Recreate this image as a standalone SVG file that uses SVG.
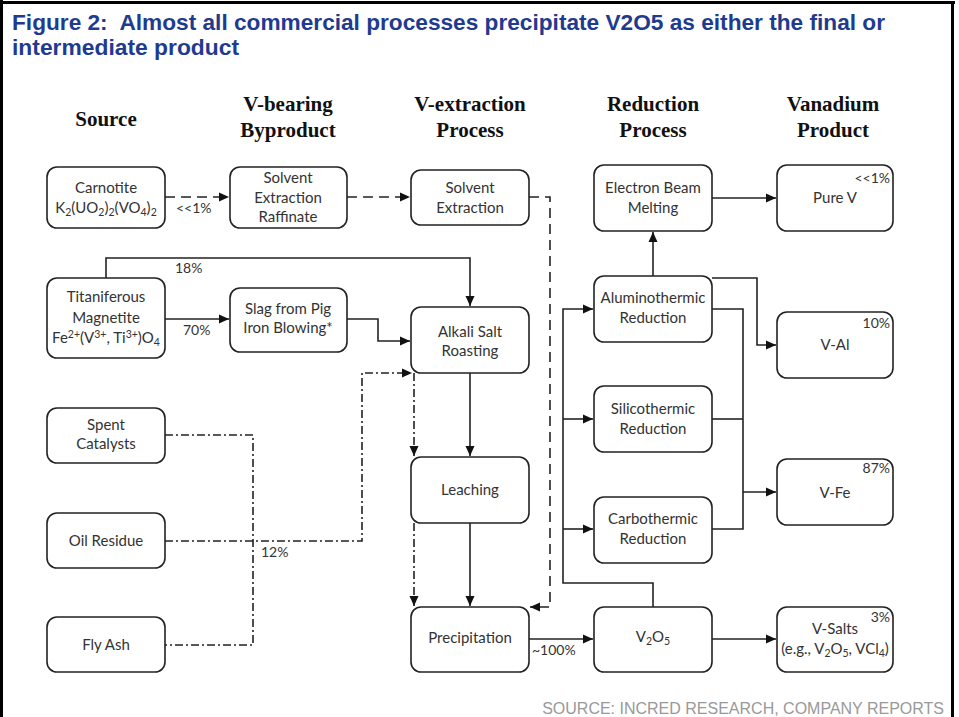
<svg xmlns="http://www.w3.org/2000/svg" width="959" height="717" viewBox="0 0 959 717">
<style>
.title{font-family:"Liberation Sans",Arial,sans-serif;font-weight:bold;font-size:22px;fill:#1f3b8f;white-space:pre}
.hdr{font-family:"Liberation Serif","Times New Roman",serif;font-weight:bold;font-size:21px;fill:#111;text-anchor:middle}
.box{fill:#fff;stroke:#222;stroke-width:1.6}
.t{font-family:Lato,"Noto Sans",sans-serif;font-size:15px;fill:#333;text-anchor:middle}
.pct{font-family:Lato,"Noto Sans",sans-serif;font-size:14px;fill:#333;text-anchor:end}
.lbl{font-family:Lato,"Noto Sans",sans-serif;font-size:14px;fill:#333}
.sub{font-size:10.5px}
.ln{fill:none;stroke:#222;stroke-width:1.6}
.dash{stroke-dasharray:10 6}
.dd{stroke-dasharray:8 3 2 3}
.src{font-family:"Liberation Sans",Arial,sans-serif;font-size:16px;fill:#999;text-anchor:end}
</style>
<defs>
<marker id="ah" markerUnits="userSpaceOnUse" markerWidth="11" markerHeight="10" refX="10" refY="5" orient="auto">
<path d="M0,0.5 L10,5 L0,9.5 z" fill="#111"/>
</marker>
</defs>
<rect width="959" height="717" fill="#fff"/>
<g id="frame" fill="#000">
<rect x="0" y="0" width="3" height="717"/>
<rect x="0" y="1" width="955" height="3"/>
<rect x="951" y="1" width="3" height="716"/>
</g>
<g id="title">
<text class="title" x="12" y="30" textLength="873" lengthAdjust="spacingAndGlyphs">Figure 2:  Almost all commercial processes precipitate V2O5 as either the final or</text>
<text class="title" x="12" y="55" textLength="227" lengthAdjust="spacingAndGlyphs">intermediate product</text>
</g>
<g id="headers">
<text class="hdr" x="106" y="126">Source</text>
<text class="hdr" x="288" y="111">V-bearing</text>
<text class="hdr" x="288" y="137">Byproduct</text>
<text class="hdr" x="470" y="111">V-extraction</text>
<text class="hdr" x="470" y="137">Process</text>
<text class="hdr" x="653" y="111">Reduction</text>
<text class="hdr" x="653" y="137">Process</text>
<text class="hdr" x="833" y="111">Vanadium</text>
<text class="hdr" x="833" y="137">Product</text>
</g>
<g id="connectors">
<path class="ln dash" d="M165,197 H229" marker-end="url(#ah)"/>
<path class="ln dash" d="M347,197 H410" marker-end="url(#ah)"/>
<path class="ln dash" d="M529,197 H550 V607 H530" marker-end="url(#ah)"/>
<path class="ln" d="M106,278 V258 H470 V306" marker-end="url(#ah)"/>
<path class="ln" d="M165,319 H229" marker-end="url(#ah)"/>
<path class="ln" d="M347,319 H378 V341 H410" marker-end="url(#ah)"/>
<path class="ln" d="M470,373 V456" marker-end="url(#ah)"/>
<path class="ln" d="M470,523 V606" marker-end="url(#ah)"/>
<path class="ln" d="M529,639 H593" marker-end="url(#ah)"/>
<path class="ln" d="M712,639 H776" marker-end="url(#ah)"/>
<path class="ln" d="M653,607 V583 H563 V309 H593" marker-end="url(#ah)"/>
<path class="ln" d="M563,419 H593" marker-end="url(#ah)"/>
<path class="ln" d="M563,529 H593" marker-end="url(#ah)"/>
<path class="ln" d="M653,276 V232" marker-end="url(#ah)"/>
<path class="ln" d="M712,198 H776" marker-end="url(#ah)"/>
<path class="ln" d="M712,278 H757 V345 H776" marker-end="url(#ah)"/>
<path class="ln" d="M712,309 H743 V529 H712"/>
<path class="ln" d="M712,419 H743"/>
<path class="ln" d="M743,492 H776" marker-end="url(#ah)"/>
<path class="ln dd" d="M165,435 H253 V645 H165"/>
<path class="ln dd" d="M165,541 H362 V373 H412" marker-end="url(#ah)"/>
<path class="ln dd" d="M414,373 V456" marker-end="url(#ah)"/>
<path class="ln dd" d="M414,523 V606" marker-end="url(#ah)"/>
<text class="lbl" x="176" y="213">&lt;&lt;1%</text>
<text class="lbl" x="175" y="273">18%</text>
<text class="lbl" x="183" y="335">70%</text>
<text class="lbl" x="261" y="557">12%</text>
<text class="lbl" x="532" y="655">~100%</text>
</g>
<g id="carnotite">
<rect class="box" x="47" y="167" width="118" height="61" rx="10"/>
<text class="t" x="106" y="193">Carnotite</text>
<text class="t" x="106" y="213">K<tspan class="sub" dy="3">2</tspan><tspan dy="-3">(UO</tspan><tspan class="sub" dy="3">2</tspan><tspan dy="-3">)</tspan><tspan class="sub" dy="3">2</tspan><tspan dy="-3">(VO</tspan><tspan class="sub" dy="3">4</tspan><tspan dy="-3">)</tspan><tspan class="sub" dy="3">2</tspan></text>
</g>
<g id="raffinate">
<rect class="box" x="230" y="167" width="117" height="61" rx="10"/>
<text class="t" x="288" y="183">Solvent</text>
<text class="t" x="288" y="203">Extraction</text>
<text class="t" x="288" y="222">Raffinate</text>
</g>
<g id="solvent-extraction">
<rect class="box" x="411" y="170" width="118" height="55" rx="10"/>
<text class="t" x="470" y="193">Solvent</text>
<text class="t" x="470" y="213">Extraction</text>
</g>
<g id="electron-beam">
<rect class="box" x="594" y="165" width="118" height="66" rx="10"/>
<text class="t" x="653" y="193">Electron Beam</text>
<text class="t" x="653" y="213">Melting</text>
</g>
<g id="pure-v">
<rect class="box" x="777" y="165" width="116" height="66" rx="10"/>
<text class="pct" x="890" y="183">&lt;&lt;1%</text>
<text class="t" x="835" y="203">Pure V</text>
</g>
<g id="titaniferous">
<rect class="box" x="47" y="278" width="118" height="80" rx="10"/>
<text class="t" x="106" y="302">Titaniferous</text>
<text class="t" x="106" y="323">Magnetite</text>
<text class="t" x="106" y="343">Fe<tspan class="sub" dy="-5">2+</tspan><tspan dy="5">(V</tspan><tspan class="sub" dy="-5">3+</tspan><tspan dy="5">, Ti</tspan><tspan class="sub" dy="-5">3+</tspan><tspan dy="5">)O</tspan><tspan class="sub" dy="3">4</tspan></text>
</g>
<g id="slag">
<rect class="box" x="230" y="288" width="117" height="64" rx="10"/>
<text class="t" x="288" y="314">Slag from Pig</text>
<text class="t" x="288" y="333">Iron Blowing*</text>
</g>
<g id="alkali">
<rect class="box" x="411" y="307" width="118" height="66" rx="10"/>
<text class="t" x="470" y="337">Alkali Salt</text>
<text class="t" x="470" y="356">Roasting</text>
</g>
<g id="aluminothermic">
<rect class="box" x="594" y="276" width="118" height="66" rx="10"/>
<text class="t" x="653" y="303">Aluminothermic</text>
<text class="t" x="653" y="323">Reduction</text>
</g>
<g id="v-al">
<rect class="box" x="777" y="312" width="116" height="66" rx="10"/>
<text class="pct" x="890" y="328">10%</text>
<text class="t" x="835" y="350">V-Al</text>
</g>
<g id="spent-catalysts">
<rect class="box" x="47" y="408" width="118" height="55" rx="10"/>
<text class="t" x="106" y="430">Spent</text>
<text class="t" x="106" y="449">Catalysts</text>
</g>
<g id="oil-residue">
<rect class="box" x="47" y="513" width="118" height="55" rx="10"/>
<text class="t" x="106" y="546">Oil Residue</text>
</g>
<g id="fly-ash">
<rect class="box" x="47" y="617" width="118" height="55" rx="10"/>
<text class="t" x="106" y="650">Fly Ash</text>
</g>
<g id="leaching">
<rect class="box" x="411" y="457" width="118" height="66" rx="10"/>
<text class="t" x="470" y="495">Leaching</text>
</g>
<g id="precipitation">
<rect class="box" x="411" y="607" width="118" height="65" rx="10"/>
<text class="t" x="470" y="643">Precipitation</text>
</g>
<g id="silicothermic">
<rect class="box" x="594" y="386" width="118" height="66" rx="10"/>
<text class="t" x="653" y="414">Silicothermic</text>
<text class="t" x="653" y="434">Reduction</text>
</g>
<g id="carbothermic">
<rect class="box" x="594" y="497" width="118" height="66" rx="10"/>
<text class="t" x="653" y="524">Carbothermic</text>
<text class="t" x="653" y="544">Reduction</text>
</g>
<g id="v-fe">
<rect class="box" x="777" y="459" width="116" height="66" rx="10"/>
<text class="pct" x="890" y="473">87%</text>
<text class="t" x="835" y="498">V-Fe</text>
</g>
<g id="v2o5">
<rect class="box" x="594" y="607" width="118" height="65" rx="10"/>
<text class="t" x="653" y="642">V<tspan class="sub" dy="3">2</tspan><tspan dy="-3">O</tspan><tspan class="sub" dy="3">5</tspan></text>
</g>
<g id="v-salts">
<rect class="box" x="777" y="607" width="116" height="65" rx="10"/>
<text class="pct" x="890" y="622">3%</text>
<text class="t" x="835" y="634">V-Salts</text>
<text class="t" x="835" y="654">(e.g., V<tspan class="sub" dy="3">2</tspan><tspan dy="-3">O</tspan><tspan class="sub" dy="3">5</tspan><tspan dy="-3">, VCl</tspan><tspan class="sub" dy="3">4</tspan><tspan dy="-3">)</tspan></text>
</g>
<g id="source">
<text class="src" x="944" y="714">SOURCE: INCRED RESEARCH, COMPANY REPORTS</text>
</g>
</svg>
